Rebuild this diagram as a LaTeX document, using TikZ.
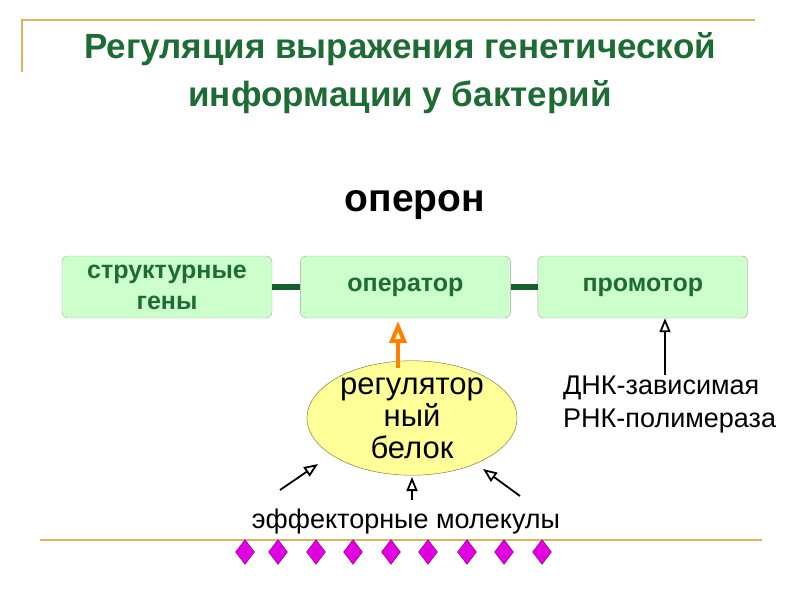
\documentclass[tikz,border=0pt]{standalone}
\usepackage{fontspec}
\setmainfont{Liberation Sans}
\usetikzlibrary{arrows.meta,shapes.geometric,positioning}
\definecolor{titlegreen}{HTML}{1E6B36}
\definecolor{boxfill}{HTML}{CCFFCC}
\definecolor{rulegold}{HTML}{D9B466}
\definecolor{linkgreen}{HTML}{1B5E2E}
\definecolor{protfill}{HTML}{FFFF99}
\definecolor{effmag}{HTML}{E000E0}
\tikzset{
  genebox/.style={draw=gray!70, fill=boxfill, rounded corners=6pt, minimum width=210pt,
    minimum height=62pt, align=center, font=\bfseries\fontsize{25}{31}\selectfont, text=titlegreen},
  link/.style={draw=linkgreen, line width=6pt},
  effarrow/.style={draw=black, line width=1.8pt, -{Triangle[open, length=14pt, width=11pt]}},
  molecule/.style={diamond, draw=effmag!60!black, fill=effmag, inner sep=0pt,
    minimum width=19pt, minimum height=25pt},
}
\begin{document}
\begin{tikzpicture}[x=1pt, y=-1pt]
  \useasboundingbox (0,0) rectangle (800,600);
  % frame rules
  \draw[rulegold, line width=1.2pt] (22,72) -- (22,20) -- (755,20);
  \draw[rulegold, line width=1.2pt] (40,540) -- (762,540);
  % title
  \node[text=titlegreen, font=\bfseries\fontsize{35}{48}\selectfont, align=center] (title) at (400,73)
    {Регуляция выражения генетической\\информации у бактерий};
  \node[font=\bfseries\fontsize{39}{42}\selectfont] (operon) at (415,205) {оперон};
  % genes
  \node[genebox] (struct) at (167,287) {структурные\\гены};
  \node[genebox, right=28pt of struct] (oper) {оператор};
  \node[genebox, right=27pt of oper] (prom) {промотор};
  \draw[link] (struct) -- (oper);
  \draw[link] (oper) -- (prom);
  % regulator
  \node[ellipse, draw=olive!70!black, fill=protfill, minimum width=210pt, minimum height=100pt,
    inner sep=0pt, align=center, font=\fontsize{31}{32}\selectfont] (reg) at (412,418)
    {регулятор\\ный\\белок};
  \draw[draw=orange, line width=4pt, -{Triangle[open, length=22pt, width=17pt, fill=yellow!20]}]
    (398,368) -- (398,321);
  % polymerase
  \node[align=left, anchor=west, font=\fontsize{27}{33}\selectfont, inner sep=0pt] (pol) at (563,405)
    {ДНК-зависимая\\РНК-полимераза};
  \draw[effarrow] (665,375) -- (prom.south -| 665,0);
  % effectors
  \node[font=\fontsize{27}{30}\selectfont] (eff) at (406,522) {эффекторные молекулы};
  \draw[effarrow] (280,490) -- (318,464);
  \draw[effarrow] (412,500) -- (412,477);
  \draw[effarrow] (520,496) -- (483,469);
  \foreach \xx in {245,278,316,353,391,428,467,504,542}
    \node[molecule] at (\xx,552) {};
\end{tikzpicture}
\end{document}
